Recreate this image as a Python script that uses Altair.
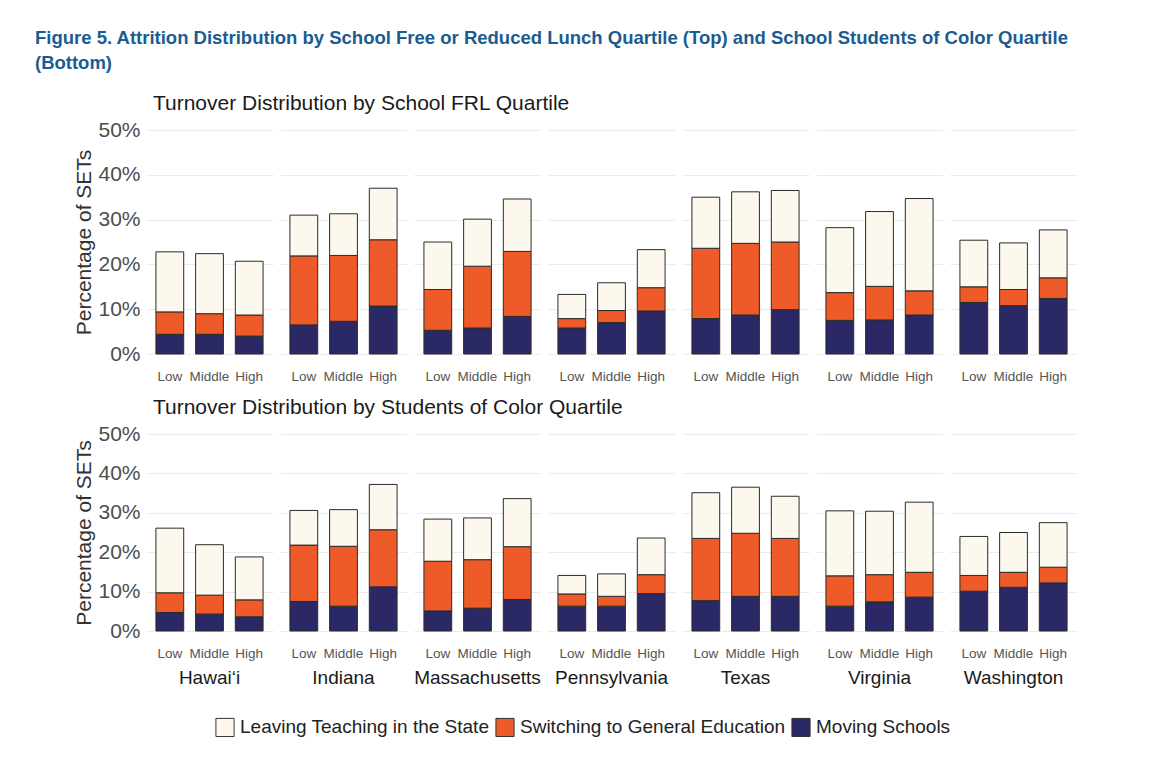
import altair as alt
import pandas as pd

states = ["Hawai\u2018i", "Indiana", "Massachusetts", "Pennsylvania", "Texas", "Virginia", "Washington"]
quartiles = ["Low", "Middle", "High"]
types = ["Leaving Teaching in the State", "Switching to General Education", "Moving Schools"]
colors = ["#FDF8EE", "#EF5A29", "#2A2966"]

# Segment values (percent) per state, per quartile [Low, Middle, High]
frl_moving = [[4.4, 4.4, 4.0], [6.5, 7.3, 10.7], [5.3, 5.8, 8.4], [5.8, 7.0, 9.6],
              [7.9, 8.7, 9.9], [7.5, 7.6, 8.7], [11.5, 10.8, 12.4]]
frl_switching = [[5.0, 4.6, 4.7], [15.4, 14.7, 14.8], [9.1, 13.8, 14.5], [2.1, 2.7, 5.2],
                 [15.7, 16.0, 15.1], [6.2, 7.5, 5.4], [3.5, 3.6, 4.6]]
frl_leaving = [[13.4, 13.4, 12.0], [9.1, 9.3, 11.5], [10.6, 10.5, 11.7], [5.4, 6.2, 8.5],
               [11.4, 11.5, 11.5], [14.5, 16.7, 20.6], [10.4, 10.4, 10.7]]

soc_moving = [[4.7, 4.3, 3.6], [7.5, 6.3, 11.2], [5.1, 5.8, 8.0], [6.3, 6.3, 9.5],
              [7.7, 8.8, 8.8], [6.3, 7.4, 8.6], [10.1, 11.1, 12.2]]
soc_switching = [[5.0, 4.8, 4.3], [14.3, 15.2, 14.5], [12.6, 12.3, 13.4], [3.1, 2.5, 4.8],
                 [15.8, 16.0, 14.7], [7.7, 6.9, 6.3], [4.0, 3.8, 4.0]]
soc_leaving = [[16.4, 12.8, 10.9], [8.8, 9.3, 11.5], [10.7, 10.6, 12.2], [4.7, 5.7, 9.3],
               [11.6, 11.7, 10.7], [16.5, 16.1, 17.8], [9.9, 10.1, 11.3]]


def build(moving, switching, leaving):
    rows = []
    for si, s in enumerate(states):
        for qi, q in enumerate(quartiles):
            rows.append(dict(state=s, quartile=q, type=types[2], order=0, value=moving[si][qi]))
            rows.append(dict(state=s, quartile=q, type=types[1], order=1, value=switching[si][qi]))
            rows.append(dict(state=s, quartile=q, type=types[0], order=2, value=leaving[si][qi]))
    return pd.DataFrame(rows)


df_top = build(frl_moving, frl_switching, frl_leaving)
df_bot = build(soc_moving, soc_switching, soc_leaving)

FONT = "Liberation Sans"


def panel(df, title, height, show_states):
    base = alt.Chart(df).mark_bar(stroke="#2b2b2b", strokeWidth=1).encode(
        x=alt.X("quartile:N", sort=quartiles,
                scale=alt.Scale(paddingInner=0.3, paddingOuter=0.25),
                axis=alt.Axis(title=None, labelAngle=0, labelFontSize=13.5, labelColor="#555555",
                              labelFont=FONT, ticks=False, domain=False, labelPadding=14, grid=False)),
        y=alt.Y("value:Q", stack="zero",
                scale=alt.Scale(domain=[0, 50], nice=False),
                axis=alt.Axis(title="Percentage of SETs", values=[0, 10, 20, 30, 40, 50],
                              labelExpr="datum.value + '%'", labelFontSize=21, labelColor="#4D4D4D",
                              labelFont=FONT, titleFont=FONT, titleFontSize=21, titleFontWeight="normal",
                              titleColor="#333333", ticks=False, domain=False, labelPadding=6,
                              titlePadding=3, gridColor="#EBEBEB", gridWidth=1)),
        color=alt.Color("type:N", scale=alt.Scale(domain=types, range=colors),
                        legend=alt.Legend(title=None, orient="none", direction="horizontal",
                                          legendX=69, legendY=587,
                                          symbolType="square", symbolSize=330,
                                          symbolStrokeColor="#333333", symbolStrokeWidth=1,
                                          labelFontSize=19, labelFont=FONT, labelColor="#222222",
                                          labelLimit=0, columnPadding=3, labelOffset=5)),
        order=alt.Order("order:Q", sort="ascending"),
    ).properties(width=127, height=height)
    if show_states:
        header = alt.Header(title=None, labelOrient="bottom", labelFontSize=19, labelFont=FONT,
                            labelColor="#1A1A1A", labelPadding=9)
    else:
        header = alt.Header(title=None, labels=False)
    return base.facet(
        column=alt.Column("state:N", sort=states, header=header),
        spacing=7,
        title=alt.TitleParams(title, anchor="start", fontSize=21, font=FONT, fontWeight="normal",
                              color="#1A1A1A", dx=79, offset=5),
    )


top = panel(df_top, "Turnover Distribution by School FRL Quartile", 224, False)
bot = panel(df_bot, "Turnover Distribution by Students of Color Quartile", 197, True)

chart = alt.vconcat(top, bot, spacing=14).properties(
    title=alt.TitleParams(
        ["Figure 5. Attrition Distribution by School Free or Reduced Lunch Quartile (Top) and School Students of Color Quartile",
         "(Bottom)"],
        anchor="start", fontSize=18.5, font=FONT, fontWeight="bold", color="#1A5C92",
        dx=-39, lineHeight=25, offset=21),
    padding={"left": 26, "top": 20, "right": 10, "bottom": 10},
).configure_view(stroke=None).configure_axis(grid=True)

chart.save("out.html", embed_options={"renderer": "svg", "actions": False})
